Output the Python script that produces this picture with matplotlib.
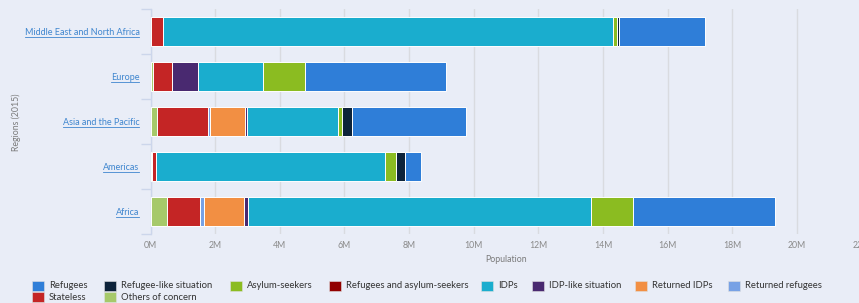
import matplotlib
matplotlib.use("Agg")
import matplotlib.pyplot as plt
from matplotlib.patches import Rectangle
from matplotlib.lines import Line2D
import numpy as np

# ---- data (millions) ----
regions = ["Middle East and North Africa", "Europe", "Asia and the Pacific", "Americas", "Africa"]

series_names = ["Refugees", "Refugee-like situation", "Asylum-seekers", "Refugees and asylum-seekers",
                "IDPs", "IDP-like situation", "Returned IDPs", "Returned refugees", "Stateless",
                "Others of concern"]
series_colors = ["#2f7ed8", "#0d233a", "#8bbc21", "#910000", "#1aadce", "#492970",
                 "#f28f43", "#77a1e5", "#c42525", "#a6c96a"]

refugees          = [2.64, 4.36, 3.54, 0.49, 4.40]
refugee_like      = [0.08, 0.00, 0.30, 0.28, 0.00]
asylum_seekers    = [0.12, 1.31, 0.12, 0.34, 1.30]
ref_and_asylum    = [0.00, 0.00, 0.00, 0.00, 0.00]
idps              = [13.90, 2.00, 2.83, 7.09, 10.60]
idp_like          = [0.00, 0.80, 0.05, 0.00, 0.15]
returned_idps     = [0.00, 0.00, 1.08, 0.00, 1.22]
returned_refugees = [0.00, 0.00, 0.07, 0.00, 0.12]
stateless         = [0.40, 0.59, 1.58, 0.13, 1.02]
others_of_concern = [0.00, 0.08, 0.20, 0.04, 0.52]

series_values = [refugees, refugee_like, asylum_seekers, ref_and_asylum, idps, idp_like,
                 returned_idps, returned_refugees, stateless, others_of_concern]

x_ticks = [0, 2, 4, 6, 8, 10, 12, 14, 16, 18, 20, 22]
x_tick_labels = [f"{t}M" for t in x_ticks]

# ---- figure ----
W, H = 859, 303
bg = "#e9edf7"
fig = plt.figure(figsize=(W / 100, H / 100), dpi=100, facecolor=bg)
plt.rcParams['font.family'] = ['Lato', 'DejaVu Sans']

def fx(px):
    return px / W

def fy(py):
    return 1 - py / H

x0_px, px_per_m = 150.5, 32.33
x1_px = x0_px + 22 * px_per_m
top_px, bot_px = 9.3, 234.3
ax = fig.add_axes([fx(x0_px), fy(bot_px), fx(x1_px) - fx(x0_px), fy(top_px) - fy(bot_px)])
ax.set_facecolor(bg)
ax.set_xlim(0, 22)
ax.set_ylim(len(regions) - 0.5, -0.5)

ypos = np.arange(len(regions))
left = np.zeros(len(regions))
# stack last series at the left (Highcharts order)
for name, color, vals in reversed(list(zip(series_names, series_colors, series_values))):
    v = np.array(vals)
    ax.barh(ypos, v, left=left, height=29 / 45, color=color, edgecolor="white",
            linewidth=0.7, zorder=3)
    left += v

for s in ["top", "right", "bottom"]:
    ax.spines[s].set_visible(False)
ax.spines["left"].set_color("#ccd6eb")
ax.spines["left"].set_linewidth(1)

ax.set_xticks(x_ticks)
ax.set_xticklabels(x_tick_labels, color="#8a8a8a", fontsize=6.3)
ax.tick_params(axis="x", length=0, pad=4.5)
ax.grid(axis="x", color="#d9dbe0", linewidth=1, zorder=0)

# category ticks at boundaries
ax.set_yticks(np.arange(len(regions) + 1) - 0.5, minor=True)
ax.set_yticks(ypos)
ax.set_yticklabels(regions, color="#3f86cf", fontsize=6.5)
ax.tick_params(axis="y", which="major", length=0, pad=8)
ax.tick_params(axis="y", which="minor", length=7, color="#ccd6eb", width=1)

ax.set_xlabel("Population", color="#7a7a7a", fontsize=6.3, labelpad=4)
fig.text(fx(16), fy(122), "Regions (2015)", rotation=90, color="#7a7a7a", fontsize=6.3,
         ha="center", va="center")

# underline category labels
fig.canvas.draw()
r = fig.canvas.get_renderer()
for lbl in ax.get_yticklabels():
    bb = lbl.get_window_extent(r)
    yline = bb.y0 + 0.5
    fig.add_artist(Line2D([bb.x0 / W, bb.x1 / W], [yline / H, yline / H], color="#3f86cf",
                          linewidth=0.6, transform=fig.transFigure))

# legend (manual, Highcharts flow layout)
leg_pos = [(32, 286), (104, 286), (230, 286), (329, 286), (481, 286), (532, 286),
           (635, 286), (728, 286), (32, 297), (104, 297)]
for (px, py), name, color in zip(leg_pos, series_names, series_colors):
    fig.add_artist(Rectangle((fx(px), fy(py + 5)), 12 / W, 10 / H, facecolor=color,
                             edgecolor="#e0e0e0", linewidth=0.4, transform=fig.transFigure))
    fig.text(fx(px + 17), fy(py), name, fontsize=6.8, color="#333333", va="center", ha="left")

fig.savefig("out.png", dpi=100, facecolor=bg)
